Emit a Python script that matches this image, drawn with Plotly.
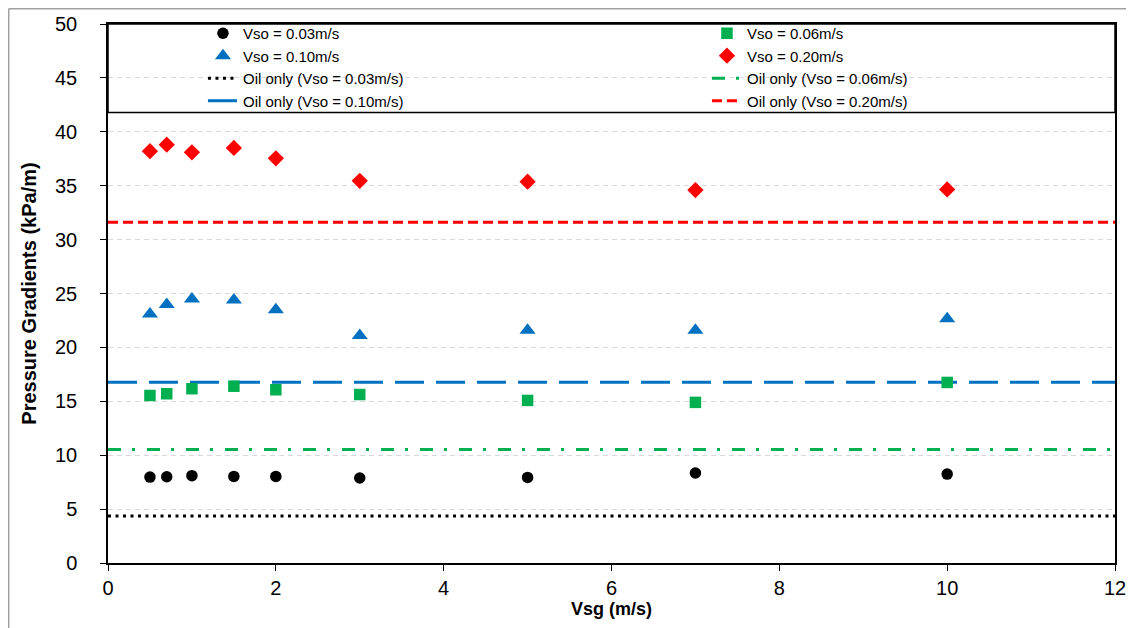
import plotly.graph_objects as go

vsg = [0.5, 0.7, 1, 1.5, 2, 3, 5, 7, 10]
dp_003 = [7.97, 8.0, 8.1, 8.03, 8.03, 7.88, 7.94, 8.35, 8.25]
dp_006 = [15.54, 15.7, 16.17, 16.4, 16.07, 15.63, 15.08, 14.9, 16.75]
dp_010 = [23.1, 23.97, 24.5, 24.4, 23.5, 21.1, 21.6, 21.6, 22.65]
dp_020 = [38.2, 38.8, 38.1, 38.5, 37.54, 35.45, 35.37, 34.6, 34.65]

oil_x = [0, 12]
oil_003 = 4.36
oil_006 = 10.54
oil_010 = 16.77
oil_020 = 31.6

font_family = "Liberation Sans, Arial, sans-serif"

fig = go.Figure()

def pts(name, y, symbol, color, size, legend):
    fig.add_trace(go.Scatter(x=vsg, y=y, mode="markers", name=name,
                             marker=dict(symbol=symbol, color=color, size=size, line=dict(width=0)),
                             legend=legend))

def hline(name, val, color, dash, width, legend):
    fig.add_trace(go.Scatter(x=oil_x, y=[val, val], mode="lines", name=name,
                             line=dict(color=color, dash=dash, width=width),
                             legend=legend))

# column 1
pts("Vso = 0.03m/s", dp_003, "circle", "black", 11.5, "legend")
pts("Vso = 0.10m/s", dp_010, "triangle-up", "#0070C0", 14, "legend")
hline("Oil only (Vso = 0.03m/s)", oil_003, "black", "3px,4.5px", 3, "legend")
hline("Oil only (Vso = 0.10m/s)", oil_010, "#0070C0", "29px,12px", 3, "legend")
# column 2
pts("Vso = 0.06m/s", dp_006, "square", "#00B050", 11.5, "legend2")
pts("Vso = 0.20m/s", dp_020, "diamond", "#FF0000", 12.5, "legend2")
hline("Oil only (Vso = 0.06m/s)", oil_006, "#00B050", "13px,11px,3px,12px", 3, "legend2")
hline("Oil only (Vso = 0.20m/s)", oil_020, "#FF0000", "10px,5px", 3, "legend2")

legend_common = dict(font=dict(family=font_family, size=15, color="black"),
                     bgcolor="rgba(0,0,0,0)", borderwidth=0,
                     xanchor="left", yanchor="top", orientation="v",
                     traceorder="normal")

fig.update_layout(
    width=1134, height=628,
    margin=dict(l=100, r=27, t=5, b=73),
    paper_bgcolor="white", plot_bgcolor="white",
    font=dict(family=font_family, color="black"),
    showlegend=True,
    legend=dict(x=0.0943, y=1.013, **legend_common),
    legend2=dict(x=0.5948, y=1.013, **legend_common),
    xaxis=dict(range=[0, 12], tickvals=[0, 2, 4, 6, 8, 10, 12],
               ticks="outside", ticklen=6, tickcolor="black",
               showline=True, linecolor="black", linewidth=1.5, mirror=True,
               showgrid=False, zeroline=False,
               tickfont=dict(size=20, family=font_family),
               title=dict(text="<b>Vsg (m/s)</b>", font=dict(size=18, family=font_family), standoff=0)),
    yaxis=dict(range=[0, 50], tickvals=[0, 5, 10, 15, 20, 25, 30, 35, 40, 45, 50],
               ticks="outside", ticklen=6, tickcolor="black",
               showline=True, linecolor="black", linewidth=1.5, mirror=True,
               showgrid=True, gridcolor="#D9D9D9", griddash="5px,4px", gridwidth=1,
               zeroline=False, ticklabelstandoff=19,
               tickfont=dict(size=20, family=font_family),
               title=dict(text="<b>Pressure Gradients (kPa/m)</b>",
                          font=dict(size=20, family="Liberation Sans Narrow, Arial Narrow, Liberation Sans, Arial"),
                          standoff=13)),
    shapes=[
        dict(type="rect", xref="paper", yref="y", x0=0, x1=1, y0=41.8, y1=50,
             line=dict(color="black", width=1.5), fillcolor="rgba(0,0,0,0)", layer="above"),
        dict(type="line", xref="paper", yref="paper", x0=-0.0986, x1=1.0268, y0=1.0283, y1=1.0283,
             line=dict(color="#A0A0A0", width=1.5)),
        dict(type="line", xref="paper", yref="paper", x0=-0.0986, x1=-0.0986, y0=1.0283, y1=-0.1354,
             line=dict(color="#A0A0A0", width=1.5)),
    ],
)

fig.write_html("out.html")
